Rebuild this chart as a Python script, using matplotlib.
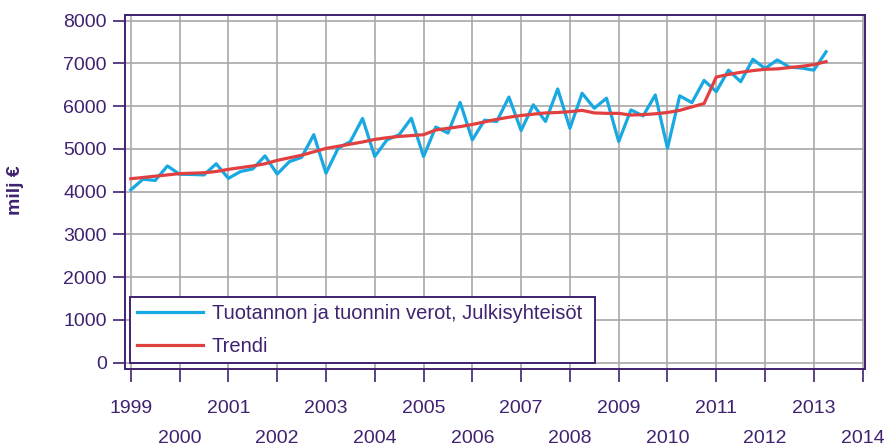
import matplotlib
matplotlib.use("Agg")
import matplotlib.pyplot as plt
import numpy as np

# ---- data (quarterly, 1999Q1 .. 2013Q2), milj. €
start_year = 1999
verot = [4040, 4290, 4260, 4600,
         4405, 4400, 4390, 4650,
         4310, 4470, 4530, 4835,
         4410, 4700, 4800, 5330,
         4430, 5015, 5170, 5710,
         4820, 5210, 5330, 5715,
         4820, 5510, 5370, 6085,
         5210, 5670, 5640, 6210,
         5430, 6030, 5640, 6400,
         5480, 6300, 5950, 6185,
         5170, 5910, 5770, 6260,
         5015, 6240, 6080, 6600,
         6340, 6840, 6570, 7095,
         6880, 7080, 6910, 6890,
         6840, 7270]
trendi = [4300, 4330, 4360, 4390,
          4420, 4430, 4440, 4470,
          4520, 4560, 4600, 4650,
          4730, 4790, 4850, 4930,
          5010, 5060, 5110, 5160,
          5220, 5260, 5290, 5310,
          5330, 5440, 5480, 5520,
          5570, 5630, 5690, 5740,
          5780, 5810, 5840, 5850,
          5870, 5900, 5840, 5830,
          5830, 5790, 5800, 5820,
          5850, 5900, 5980, 6060,
          6680, 6740, 6790, 6830,
          6860, 6870, 6900, 6930,
          6970, 7040]
labels = ["Tuotannon ja tuonnin verot, Julkisyhteisöt", "Trendi"]
ylabel = "milj €"
yticks = [0, 1000, 2000, 3000, 4000, 5000, 6000, 7000, 8000]
odd_years = [1999, 2001, 2003, 2005, 2007, 2009, 2011, 2013]
even_years = [2000, 2002, 2004, 2006, 2008, 2010, 2012, 2014]

x = start_year + np.arange(len(verot)) / 4.0

# ---- style
purple = "#3f2270"
blue = "#18a8e2"
red = "#e04040"
grid_c = "#a8a8a8"

plt.rcParams["font.family"] = ["Liberation Sans", "DejaVu Sans"]

fig = plt.figure(figsize=(8.9, 4.47), dpi=100)
ax = fig.add_axes([0.1404, 0.1745, 0.8316, 0.7919])

l1, = ax.plot(x, verot, color=blue, lw=2.3, zorder=3)
l2, = ax.plot(x, trendi, color=red, lw=2.3, zorder=4)

ax.set_xlim(1998.88, 2014.05)
ax.set_ylim(-150, 8130)

ax.set_yticks(yticks)
ax.set_yticklabels([f"{v}" for v in yticks])
ax.set_xticks(odd_years)
ax.set_xticklabels([str(y) for y in odd_years])
ax.set_xticks(even_years, minor=True)
ax.set_xticklabels([str(y) for y in even_years], minor=True)

for s in ax.spines.values():
    s.set_color(purple)
    s.set_linewidth(1.4)

ax.tick_params(axis="both", which="both", colors=purple, labelcolor=purple,
               direction="out", length=9, width=1.2, labelsize=14)
ax.tick_params(axis="x", which="major", pad=13)
ax.tick_params(axis="x", which="minor", pad=35)
ax.tick_params(axis="y", pad=4)

ax.grid(True, which="both", color=grid_c, lw=1.2)
ax.set_axisbelow(True)

ax.set_ylabel(ylabel, color=purple, fontsize=14, fontweight="bold")
ax.yaxis.set_label_coords(-0.137, 0.506)

leg = ax.legend([l1, l2], labels, loc="lower left",
                bbox_to_anchor=(0.0068, 0.017, 0.628, 0.189), mode="expand",
                frameon=True, fancybox=False, shadow=False, framealpha=1,
                edgecolor=purple, fontsize=14.5, handlelength=3.3,
                handletextpad=0.4, borderpad=0.35, labelspacing=0.7,
                borderaxespad=0)
leg.get_frame().set_linewidth(1.4)
for t in leg.get_texts():
    t.set_color(purple)
leg.set_zorder(10)

fig.savefig("out.png", dpi=100)
